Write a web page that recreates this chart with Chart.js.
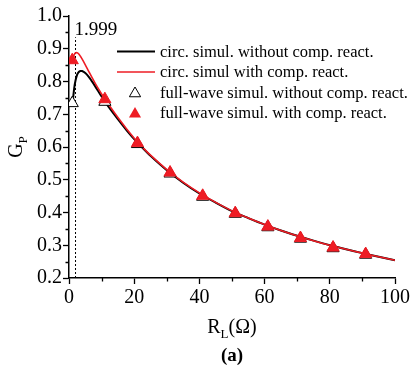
<!DOCTYPE html>
<html>
<head>
<meta charset="utf-8">
<script src="https://cdn.jsdelivr.net/npm/chart.js@4"></script>
<style>
  html, body { margin: 0; padding: 0; background: #fff; }
</style>
</head>
<body>
<canvas id="chart" width="412" height="375"></canvas>
<script>
// ─── Data ─────────────────────────────────────────────────────────
const curveX = [1.2, 1.6, 2, 2.5, 3, 3.5, 4, 5, 6, 7, 8, 9, 10, 11, 12, 14, 16, 18, 20, 22,
                25, 30, 35, 40, 45, 50, 55, 60, 65, 70, 75, 80, 85, 90, 95, 100];
const circWithout = [0.743, 0.780, 0.803, 0.821, 0.829, 0.832, 0.832, 0.826, 0.815, 0.801,
                     0.786, 0.770, 0.754, 0.739, 0.725, 0.698, 0.672, 0.647, 0.624, 0.603,
                     0.573, 0.529, 0.491, 0.458, 0.430, 0.404, 0.383, 0.363, 0.345, 0.329,
                     0.314, 0.300, 0.288, 0.276, 0.265, 0.254];
const circWith = [0.870, 0.882, 0.887, 0.888, 0.884, 0.877, 0.869, 0.851, 0.832, 0.813,
                  0.795, 0.778, 0.762, 0.747, 0.732, 0.704, 0.677, 0.651, 0.627, 0.605,
                  0.575, 0.531, 0.493, 0.460, 0.431, 0.405, 0.383, 0.363, 0.345, 0.329,
                  0.314, 0.300, 0.288, 0.276, 0.265, 0.254];

const fwX = [1, 11, 21, 31, 41, 51, 61, 71, 81, 91];
const fwWithout = [0.734, 0.738, 0.609, 0.519, 0.448, 0.396, 0.355, 0.320, 0.291, 0.271];
const fwWith    = [0.865, 0.746, 0.612, 0.522, 0.451, 0.398, 0.357, 0.322, 0.293, 0.273];

const markerX = [1.999, 1.999];
const markerY = [0.2, 0.935];
const markerLabel = '1.999';

const xTicks = [0, 20, 40, 60, 80, 100];
const yTicks = [0.2, 0.3, 0.4, 0.5, 0.6, 0.7, 0.8, 0.9, 1.0];
const xMinor = [10, 30, 50, 70, 90];
const yMinor = [0.25, 0.35, 0.45, 0.55, 0.65, 0.75, 0.85, 0.95];

const legendItems = [
  { text: 'circ. simul. without comp. react.', kind: 'line', color: '#000', width: 2 },
  { text: 'circ. simul with comp. react.',     kind: 'line', color: '#ee1c24', width: 1.5 },
  { text: 'full-wave simul. without comp. react.', kind: 'open' },
  { text: 'full-wave simul. with comp. react.',    kind: 'filled' }
];

const RED = '#ee1c24';
const SERIF = '"Liberation Serif", "Times New Roman", serif';

const pts = (xs, ys) => xs.map((x, i) => ({ x, y: ys[i] }));

// ─── Extra drawing: minor ticks, labels, legend ──────────────────
function triangle(ctx, x, y, r, fill, stroke) {
  ctx.beginPath();
  for (let k = 0; k < 3; k++) {
    const a = -Math.PI / 2 + k * 2 * Math.PI / 3;
    const px = x + Math.cos(a) * r, py = y + Math.sin(a) * r;
    k ? ctx.lineTo(px, py) : ctx.moveTo(px, py);
  }
  ctx.closePath();
  ctx.fillStyle = fill;
  ctx.fill();
  if (stroke) { ctx.strokeStyle = stroke; ctx.lineWidth = 1; ctx.stroke(); }
}

const extras = {
  id: 'extras',
  afterDraw(chart) {
    const { ctx, scales: { x, y }, chartArea: ca } = chart;
    ctx.save();

    // minor ticks
    ctx.strokeStyle = '#000';
    ctx.lineWidth = 1.3;
    ctx.beginPath();
    yMinor.forEach(v => {
      const py = Math.round(y.getPixelForValue(v)) + 0.5;
      ctx.moveTo(ca.left, py); ctx.lineTo(ca.left - 3.5, py);
    });
    xMinor.forEach(v => {
      const px = Math.round(x.getPixelForValue(v)) + 0.5;
      ctx.moveTo(px, ca.bottom); ctx.lineTo(px, ca.bottom + 3.5);
    });
    ctx.stroke();

    ctx.fillStyle = '#000';

    // marker label
    ctx.font = '19px ' + SERIF;
    ctx.textAlign = 'left';
    ctx.textBaseline = 'alphabetic';
    ctx.fillText(markerLabel, x.getPixelForValue(markerX[0]) - 1, y.getPixelForValue(markerY[1]) - 2);

    // x title R_L(Ω)
    const cx = (ca.left + ca.right) / 2;
    ctx.font = '20px ' + SERIF;
    const wR = ctx.measureText('R').width;
    ctx.font = '13px ' + SERIF;
    const wL = ctx.measureText('L').width;
    ctx.font = '20px ' + SERIF;
    const wRest = ctx.measureText('(Ω)').width;
    let tx = cx - (wR + wL + wRest) / 2;
    const ty = 333;
    ctx.fillText('R', tx, ty); tx += wR;
    ctx.font = '13px ' + SERIF;
    ctx.fillText('L', tx, ty + 5); tx += wL;
    ctx.font = '20px ' + SERIF;
    ctx.fillText('(Ω)', tx, ty);

    // y title G_P
    ctx.save();
    ctx.translate(22, (ca.top + ca.bottom) / 2);
    ctx.rotate(-Math.PI / 2);
    ctx.font = '20px ' + SERIF;
    const wG = ctx.measureText('G').width;
    ctx.font = '13px ' + SERIF;
    const wP = ctx.measureText('P').width;
    let gx = -(wG + wP) / 2;
    ctx.font = '20px ' + SERIF;
    ctx.fillText('G', gx, 0);
    ctx.font = '13px ' + SERIF;
    ctx.fillText('P', gx + wG, 5);
    ctx.restore();

    // panel label
    ctx.font = 'bold 19px ' + SERIF;
    ctx.textAlign = 'center';
    ctx.fillText('(a)', cx, 361);

    // legend
    ctx.textAlign = 'left';
    ctx.textBaseline = 'middle';
    ctx.font = '16.5px ' + SERIF;
    const rowY = [51.5, 72, 92.5, 113];
    legendItems.forEach((it, i) => {
      const yy = rowY[i];
      if (it.kind === 'line') {
        ctx.strokeStyle = it.color;
        ctx.lineWidth = it.width;
        ctx.beginPath(); ctx.moveTo(117, yy); ctx.lineTo(155, yy); ctx.stroke();
      } else if (it.kind === 'open') {
        triangle(ctx, 135, yy + 1, 6.5, '#fff', '#000');
      } else {
        triangle(ctx, 135, yy + 1, 7, RED, null);
      }
      ctx.fillStyle = '#000';
      ctx.fillText(it.text, 160, yy + 1);
    });

    ctx.restore();
  }
};

// ─── Chart ────────────────────────────────────────────────────────
new Chart(document.getElementById('chart'), {
  type: 'scatter',
  data: {
    datasets: [
      {
        label: 'full-wave simul. with comp. react.',
        data: pts(fwX, fwWith),
        pointStyle: 'triangle',
        pointRadius: 7,
        backgroundColor: RED,
        borderColor: RED,
        borderWidth: 1,
        showLine: false,
        order: 0
      },
      {
        label: 'full-wave simul. without comp. react.',
        data: pts(fwX, fwWithout),
        pointStyle: 'triangle',
        pointRadius: 7,
        backgroundColor: '#fff',
        borderColor: '#000',
        borderWidth: 1,
        showLine: false,
        order: 1
      },
      {
        label: 'circ. simul with comp. react.',
        data: pts(curveX, circWith),
        showLine: true,
        borderColor: RED,
        borderWidth: 1.6,
        pointRadius: 0,
        tension: 0.3,
        order: 2
      },
      {
        label: 'circ. simul. without comp. react.',
        data: pts(curveX, circWithout),
        showLine: true,
        borderColor: '#000',
        borderWidth: 2,
        pointRadius: 0,
        tension: 0.3,
        order: 3
      },
      {
        label: 'marker',
        data: pts(markerX, markerY),
        showLine: true,
        borderColor: '#000',
        borderWidth: 1,
        borderDash: [2, 2],
        pointRadius: 0,
        order: 4
      }
    ]
  },
  options: {
    responsive: false,
    animation: false,
    events: [],
    layout: { padding: { top: 16, right: 16, bottom: 57, left: 0 } },
    plugins: { legend: { display: false }, tooltip: { enabled: false } },
    scales: {
      x: {
        type: 'linear',
        min: 0, max: 100,
        afterFit: s => { s.height = 40; },
        afterBuildTicks: s => { s.ticks = xTicks.map(v => ({ value: v })); },
        border: { display: true, color: '#000', width: 1.5 },
        grid: { drawOnChartArea: false, drawTicks: true, tickLength: 6, tickColor: '#000', tickWidth: 1.3 },
        ticks: { color: '#000', font: { family: SERIF, size: 20 }, padding: 2, maxRotation: 0, autoSkip: false }
      },
      y: {
        type: 'linear',
        min: 0.2, max: 1.0,
        afterFit: s => { s.width = 69; },
        afterBuildTicks: s => { s.ticks = yTicks.map(v => ({ value: v })); },
        border: { display: true, color: '#000', width: 1.5 },
        grid: { drawOnChartArea: false, drawTicks: true, tickLength: 6, tickColor: '#000', tickWidth: 1.3 },
        ticks: {
          color: '#000', font: { family: SERIF, size: 20 }, padding: 1,
          callback: v => v.toFixed(1)
        }
      }
    }
  },
  plugins: [extras]
});
</script>
</body>
</html>
